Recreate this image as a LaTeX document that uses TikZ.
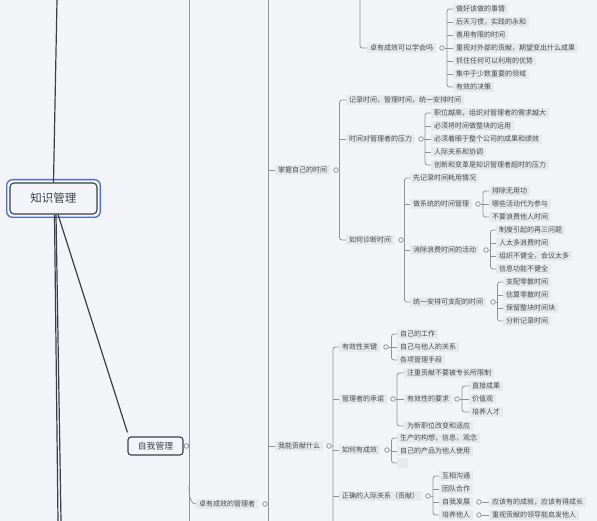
\documentclass[tikz,border=0pt]{standalone}
\usepackage{fontspec}
\setmainfont{Noto Sans CJK SC}
\definecolor{bgc}{HTML}{F3F4F8}
\definecolor{labbg}{HTML}{E8E9ED}
\definecolor{txt}{HTML}{4A4A4A}
\definecolor{connc}{HTML}{8F9297}
\definecolor{darkc}{HTML}{3B3F45}
\definecolor{bluec}{HTML}{4A72C8}
\newcommand\lab[4]{\node[lab] (#1) at (#2-3,#3) {#4};}
\newcommand\dc[3]{\node[dotc] (#1) at (#2,#3) {};}
\newcommand\br[5]{%
  \draw[conn] (#1.east) -- (#1.east -| #2);
  \draw[conn, rounded corners=2.5pt] (#3.west) -| (#4.west -| #2) -- (#4.west);
  \foreach \c in {#5} {\draw[conn] (\c.west -| #2) -- (\c.west);}
}
\begin{document}
\begin{tikzpicture}[x=1pt,y=-1pt,
  lab/.style={anchor=west, fill=labbg, text=txt, inner xsep=3pt, inner ysep=0pt,
    minimum height=10.5pt, text height=5.9pt, text depth=1pt,
    font=\fontsize{7pt}{8pt}\selectfont},
  dotc/.style={circle, draw=connc, fill=bgc, line width=0.6pt, minimum size=4.4pt, inner sep=0pt},
  conn/.style={draw=connc, line width=0.8pt},
  mainl/.style={draw=darkc, line width=1.2pt},
  rootbox/.style={draw=darkc, fill=bgc, line width=1.1pt, rounded corners=4pt,
    minimum width=87pt, minimum height=31pt, text=darkc, font=\fontsize{11.5pt}{13pt}\selectfont},
  selfbox/.style={draw=darkc, fill=bgc, line width=1.1pt, rounded corners=3pt,
    minimum width=55pt, minimum height=18pt, inner sep=0pt, text=darkc, font=\fontsize{8.8pt}{10pt}\selectfont},
]
\fill[bgc] (0,0) rectangle (597,521);
\useasboundingbox (0,0) rectangle (597,521);

% spine coordinates
\coordinate (s189) at (189,0); \coordinate (s189b) at (189,521);
\coordinate (s268) at (268,0); \coordinate (s268b) at (268,521);
\coordinate (t360) at (360,0);
\coordinate (s447) at (447,0);
\coordinate (s340) at (339.5,0);
\coordinate (s425) at (425,0);
\coordinate (s404) at (404.5,0);
\coordinate (s483) at (483,0);
\coordinate (s490) at (490.5,0);
\coordinate (s497) at (497.5,0);
\coordinate (s333) at (333,0); \coordinate (s333b) at (333,521);
\coordinate (s391) at (391.5,0);
\coordinate (s397) at (397,0);
\coordinate (s462) at (462,0);
\coordinate (s433) at (433,0);
\coordinate (c189) at (189,486);

% main dark lines
\coordinate (rtop) at (57,0);
\coordinate (rb1) at (58,521);
\coordinate (rb2) at (61,521);
\node[rootbox] (root) at (53.5,198.5) {知识管理};
\draw[bluec, line width=1.3pt, rounded corners=6pt]
  ([shift={(-2.8pt,2.8pt)}]root.north west) rectangle ([shift={(2.8pt,-2.8pt)}]root.south east);
\node[selfbox] (zw) at (155.5,446) {自我管理};
\draw[mainl] (rtop) -- (root.north);
\draw[mainl] ([xshift=1pt]root.south) -- (rb1);
\draw[mainl] ([xshift=2.5pt]root.south) -- (rb2);
\draw[mainl] ([xshift=4.5pt]root.south) -- ([yshift=4pt]zw.north west);

% level nodes
\dc{zwc}{186.5}{446}
\lab{zy}{199}{504}{卓有成效的管理者}
\dc{zyc}{265}{504}
\lab{zs}{278}{170}{掌握自己的时间}
\dc{zsc}{336}{170}
\lab{gx}{278}{446}{我能贡献什么}
\dc{gxc}{329}{446}

% top branch
\lab{xh}{370}{48}{卓有成效可以学会吗}
\dc{xhc}{442}{48}
\lab{a1}{456}{9}{做好该做的事情}
\lab{a2}{456}{22}{后天习惯，实践的永和}
\lab{a3}{456}{35}{善用有限的时间}
\lab{a4}{456}{48}{重视对外部的贡献，期望变出什么成果}
\lab{a5}{456}{61}{抓住任何可以利用的优势}
\lab{a6}{456}{74}{集中于少数重要的领域}
\lab{a7}{456}{87}{有效的决策}

% 掌握自己的时间
\lab{b1}{349}{100}{记录时间，管理时间，统一安排时间}
\lab{b2}{349}{139}{时间对管理者的压力}
\dc{b2c}{421}{139}
\lab{b3}{349}{240}{如何诊断时间}
\dc{b3c}{401}{240}
\lab{c1}{434}{113}{职位越高，组织对管理者的需求越大}
\lab{c2}{434}{126}{必须将时间做整块的运用}
\lab{c3}{434}{139}{必须着眼于整个公司的成果和绩效}
\lab{c4}{434}{152}{人际关系和协调}
\lab{c5}{434}{165}{创新和变革是知识管理者超时的压力}
\lab{d1}{413}{178}{先记录时间耗用情况}
\lab{d2}{413}{204}{做系统的时间管理}
\dc{d2c}{478}{204}
\lab{d3}{413}{250}{消除浪费时间的活动}
\dc{d3c}{486}{250}
\lab{d4}{413}{302}{统一安排可支配的时间}
\dc{d4c}{493}{302}
\lab{e1}{492}{191}{排除无用功}
\lab{e2}{492}{204}{哪些活动代为参与}
\lab{e3}{492}{217}{不要浪费他人时间}
\lab{f1}{499}{230}{制度引起的再三问题}
\lab{f2}{499}{243}{人太多浪费时间}
\lab{f3}{499}{256}{组织不健全，会议太多}
\lab{f4}{499}{269}{信息功能不健全}
\lab{g1}{506}{282}{支配零散时间}
\lab{g2}{506}{295}{估算零散时间}
\lab{g3}{506}{308}{保留整块时间块}
\lab{g4}{506}{321}{分析记录时间}

% 我能贡献什么
\lab{h1}{342}{347}{有效性关键}
\dc{h1c}{386}{347}
\lab{h2}{342}{399}{管理者的承诺}
\dc{h2c}{393}{399}
\lab{h3}{342}{450}{如何有成效}
\dc{h3c}{387}{450}
\lab{h4}{342}{496}{正确的人际关系（贡献）}
\dc{h4c}{428}{496}
\lab{i1}{400}{334}{自己的工作}
\lab{i2}{400}{347}{自己与他人的关系}
\lab{i3}{400}{360}{各项管理手段}
\lab{j1}{407}{373}{注重贡献不要被专长所限制}
\lab{j2}{407}{399}{有效性的要求}
\dc{j2c}{457}{399}
\lab{j3}{407}{426}{为新职位改变和适应}
\lab{k1}{472}{386}{直接成果}
\lab{k2}{472}{399}{价值观}
\lab{k3}{472}{412}{培养人才}
\lab{l1}{400}{438}{生产的构想，信息，观念}
\lab{l2}{400}{451}{自己的产品为他人使用}
\node[lab, minimum width=11pt] (l3) at (400-3,463) {};
\lab{m1}{442}{476}{互相沟通}
\lab{m2}{442}{489}{团队合作}
\lab{m3}{442}{502}{自我发展}
\dc{m3c}{479}{502}
\lab{m4}{442}{515}{培养他人}
\dc{m4c}{479}{515}
\lab{n1}{492}{502}{应该有的成就，应该有得成长}
\lab{n2}{492}{515}{重视贡献的领导能启发他人}

% connectors
\draw[conn] (s189) -- (s189b);
\draw[conn] (zwc.east) -- (zwc.east -| s189);
\draw[conn] (c189) .. controls +(0,12) and +(-5,0) .. (zy.west);
\draw[conn] (s268) -- (s268b);
\draw[conn] (zyc.east) -- (zyc.east -| s268);
\draw[conn] (zs.west -| s268) -- (zs.west);
\draw[conn] (gx.west -| s268) -- (gx.west);
\draw[conn, rounded corners=2.5pt] (t360) |- (xh.west);
\br{xhc}{s447}{a1}{a7}{a2,a3,a4,a5,a6}
\br{zsc}{s340}{b1}{b3}{b2}
\br{b2c}{s425}{c1}{c5}{c2,c3,c4}
\br{b3c}{s404}{d1}{d4}{d2,d3}
\br{d2c}{s483}{e1}{e3}{e2}
\br{d3c}{s490}{f1}{f4}{f2,f3}
\br{d4c}{s497}{g1}{g4}{g2,g3}
\draw[conn] (gxc.east) -- (gxc.east -| s333);
\draw[conn, rounded corners=2.5pt] (h1.west) -| (s333b);
\foreach \c in {h2,h3,h4} {\draw[conn] (\c.west -| s333) -- (\c.west);}
\br{h1c}{s391}{i1}{i3}{i2}
\br{h2c}{s397}{j1}{j3}{j2}
\br{j2c}{s462}{k1}{k3}{k2}
\br{h3c}{s391}{l1}{l3}{l2}
\br{h4c}{s433}{m1}{m4}{m2,m3}
\draw[conn] (m3c.east) -- (n1.west);
\draw[conn] (m4c.east) -- (n2.west);
% redraw dots above lines
\foreach \d in {zwc,zyc,zsc,gxc,xhc,b2c,b3c,d2c,d3c,d4c,h1c,h2c,h3c,h4c,j2c,m3c,m4c} {\node[dotc] at (\d) {};}
\end{tikzpicture}
\end{document}
